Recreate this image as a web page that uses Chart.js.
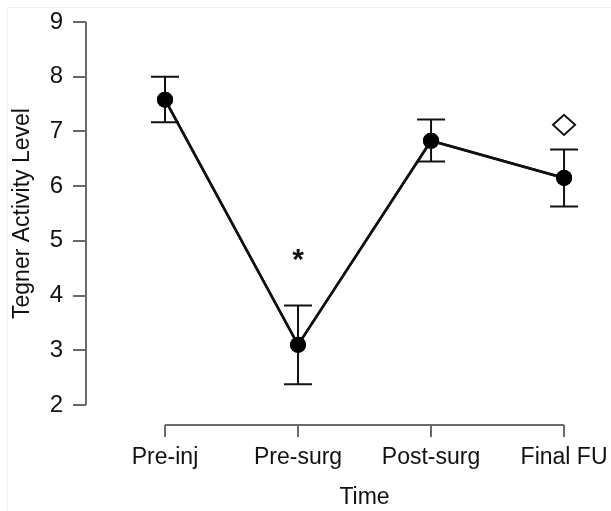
<!DOCTYPE html>
<html>
<head>
<meta charset="utf-8">
<script src="https://cdn.jsdelivr.net/npm/chart.js@4.4.1/dist/chart.umd.min.js"></script>
<style>
html,body{margin:0;padding:0;background:#fff;}
#wrap{position:relative;width:611px;height:511px;}
#frame{position:absolute;left:7px;top:7px;width:640px;height:540px;border-left:1px solid #f0f0f0;border-top:1px solid #f0f0f0;pointer-events:none;}
canvas{position:absolute;left:0;top:0;}
</style>
</head>
<body>
<div id="wrap"><canvas id="c" width="611" height="511"></canvas><div id="frame"></div></div>
<script>
const categories = ["Pre-inj", "Pre-surg", "Post-surg", "Final FU"];
const means = [7.58, 3.10, 6.83, 6.15];
const upper = [8.00, 3.82, 7.22, 6.67];
const lower = [7.17, 2.38, 6.45, 5.63];
const yTicks = [2, 3, 4, 5, 6, 7, 8, 9];
const markers = [{i: 1, y: 4.74, type: "asterisk"}, {i: 3, y: 7.12, type: "diamond"}];
const xTitle = "Time";
const yTitle = "Tegner Activity Level";

const FONT = "Liberation Sans, Arial, Helvetica, sans-serif";
const AXIS_COLOR = "#6a6a6a";
const TEXT_COLOR = "#111";

const axesPlugin = {
  id: "rAxes",
  afterDraw(chart) {
    const ctx = chart.ctx;
    const xs = chart.scales.x, ys = chart.scales.y;
    const ca = chart.chartArea;
    ctx.save();
    ctx.strokeStyle = AXIS_COLOR;
    ctx.lineWidth = 2;
    ctx.beginPath();
    ctx.moveTo(ca.left, ys.getPixelForValue(yTicks[0]));
    ctx.lineTo(ca.left, ys.getPixelForValue(yTicks[yTicks.length - 1]));
    ctx.moveTo(xs.getPixelForValue(0), ca.bottom);
    ctx.lineTo(xs.getPixelForValue(categories.length - 1), ca.bottom);
    ctx.stroke();
    ctx.strokeStyle = "#111";
    ctx.lineWidth = 2;
    for (let i = 0; i < means.length; i++) {
      const px = xs.getPixelForValue(i);
      const pu = ys.getPixelForValue(upper[i]);
      const pl = ys.getPixelForValue(lower[i]);
      ctx.beginPath();
      ctx.moveTo(px, pu); ctx.lineTo(px, pl);
      ctx.moveTo(px - 14, pu); ctx.lineTo(px + 14, pu);
      ctx.moveTo(px - 14, pl); ctx.lineTo(px + 14, pl);
      ctx.stroke();
    }
    markers.forEach(m => {
      const px = xs.getPixelForValue(m.i);
      const py = ys.getPixelForValue(m.y);
      if (m.type === "asterisk") {
        ctx.fillStyle = "#111";
        ctx.font = "bold 30px " + FONT;
        ctx.textAlign = "center";
        ctx.textBaseline = "middle";
        ctx.fillText("*", px, py + 6);
      } else {
        ctx.strokeStyle = "#111";
        ctx.lineWidth = 2;
        ctx.fillStyle = "#fff";
        ctx.beginPath();
        ctx.moveTo(px, py - 10);
        ctx.lineTo(px + 11, py);
        ctx.lineTo(px, py + 10);
        ctx.lineTo(px - 11, py);
        ctx.closePath();
        ctx.fill();
        ctx.stroke();
      }
    });
    ctx.fillStyle = TEXT_COLOR;
    ctx.font = "23px " + FONT;
    ctx.textAlign = "center";
    ctx.textBaseline = "middle";
    ctx.fillText(xTitle, (xs.getPixelForValue(0) + xs.getPixelForValue(categories.length - 1)) / 2, 498);
    ctx.translate(23, (ys.getPixelForValue(yTicks[0]) + ys.getPixelForValue(yTicks[yTicks.length - 1])) / 2);
    ctx.rotate(-Math.PI / 2);
    ctx.fillText(yTitle, 0, 0);
    ctx.restore();
  }
};

const pointsOnTop = {
  id: "pointsOnTop",
  afterDraw(chart) {
    chart.getDatasetMeta(0).controller.draw();
  }
};

new Chart(document.getElementById("c"), {
  type: "line",
  data: {
    datasets: [{
      data: means.map((v, i) => ({x: i, y: v})),
      borderColor: "#111",
      borderWidth: 2.5,
      backgroundColor: "#000",
      pointBackgroundColor: "#000",
      pointBorderColor: "#000",
      pointRadius: 8,
      pointBorderWidth: 0,
      tension: 0
    }]
  },
  options: {
    responsive: false,
    animation: false,
    events: [],
    layout: {padding: {left: 0, top: 22, right: 25, bottom: 0}},
    plugins: {legend: {display: false}, tooltip: {enabled: false}},
    scales: {
      x: {
        type: "linear",
        min: -0.594,
        max: 3.165,
        afterBuildTicks: s => { s.ticks = categories.map((c, i) => ({value: i})); },
        afterFit: s => { s.height = 86; s.paddingLeft = 0; s.paddingRight = 0; },
        border: {display: false},
        grid: {display: true, drawOnChartArea: false, drawTicks: true, tickLength: 12, color: AXIS_COLOR, lineWidth: 2},
        ticks: {
          callback: (v) => categories[v],
          color: TEXT_COLOR,
          font: {family: FONT, size: 23},
          padding: 7,
          maxRotation: 0,
          autoSkip: false
        }
      },
      y: {
        type: "linear",
        min: 1.635,
        max: 9,
        afterBuildTicks: s => { s.ticks = yTicks.map(v => ({value: v})); },
        afterFit: s => { s.width = 86; s.paddingTop = 0; s.paddingBottom = 0; },
        border: {display: false},
        grid: {display: true, drawOnChartArea: false, drawTicks: true, tickLength: 13, color: AXIS_COLOR, lineWidth: 2},
        ticks: {
          color: TEXT_COLOR,
          font: {family: FONT, size: 24},
          padding: 10
        }
      }
    }
  },
  plugins: [axesPlugin, pointsOnTop]
});
</script>
</body>
</html>
